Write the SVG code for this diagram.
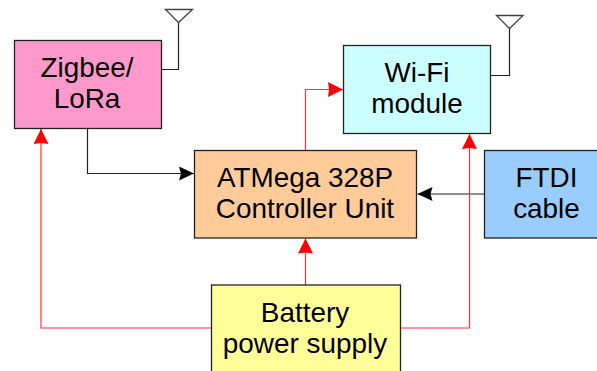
<svg xmlns="http://www.w3.org/2000/svg" width="597" height="371" viewBox="0 0 597 371">
<style>
.box{stroke:#222;stroke-width:1.3}
.lbl{font-family:"Liberation Sans",Arial,sans-serif;font-size:27.9px;fill:#000;text-anchor:middle}
.k{fill:none;stroke:#222;stroke-width:1.2}
.r{fill:none;stroke:#f33;stroke-width:1.2}
.ant{fill:#fff;stroke:#444;stroke-width:1.3}
</style>
<defs>
<marker id="ah-k" markerUnits="userSpaceOnUse" markerWidth="15" markerHeight="14" refX="15" refY="7" orient="auto"><path d="M0 0L15 7L0 14L2 7Z" fill="#000"/></marker>
<marker id="ah-r" markerUnits="userSpaceOnUse" markerWidth="15" markerHeight="15" refX="15" refY="7.5" orient="auto"><path d="M0 0L15 7.5L0 15L1 7.5Z" fill="#f00"/></marker>
</defs>
<rect width="597" height="371" fill="#fff"/>
<g id="connectors">
<path class="k" d="M87.500 128V173.500H194" marker-end="url(#ah-k)"/>
<path class="k" d="M484 194H417.500" marker-end="url(#ah-k)"/>
<path class="r" d="M211 328H41V129" marker-end="url(#ah-r)"/>
<path class="r" d="M305.500 150V89.500H343" marker-end="url(#ah-r)"/>
<path class="r" d="M305.500 285V238.500" marker-end="url(#ah-r)"/>
<path class="r" d="M400 328H469.500V134" marker-end="url(#ah-r)"/>
<path class="k" d="M161.500 69.500H178.500V22.500"/>
<path class="k" d="M491 75.500H509.500V28.500"/>
</g>
<g id="antenna-zigbee"><path class="ant" d="M165.500 9.500H192.500L178.500 22.500Z"/></g>
<g id="antenna-wifi"><path class="ant" d="M496.500 15.500H523L509.500 28.500Z"/></g>
<g id="zigbee"><rect class="box" x="14.500" y="40.500" width="147" height="88" fill="#f9c"/>
<text class="lbl" x="87" y="77">Zigbee/</text><text class="lbl" x="87" y="108">LoRa</text></g>
<g id="wifi"><rect class="box" x="343.500" y="45.500" width="147" height="88" fill="#cff"/>
<text class="lbl" x="417" y="82">Wi-Fi</text><text class="lbl" x="417" y="113">module</text></g>
<g id="controller"><rect class="box" x="194.500" y="150.500" width="222" height="87.500" fill="#fc9"/>
<text class="lbl" x="305" y="187">ATMega 328P</text><text class="lbl" x="305" y="218">Controller Unit</text></g>
<g id="ftdi"><rect class="box" x="484.500" y="150.500" width="120" height="87.500" fill="#9cf"/>
<text class="lbl" x="546.500" y="187">FTDI</text><text class="lbl" x="546.500" y="218">cable</text></g>
<g id="battery"><rect class="box" x="211.500" y="285" width="189" height="95" fill="#ff9"/>
<text class="lbl" x="305" y="322">Battery</text><text class="lbl" x="305" y="353">power supply</text></g>
</svg>
